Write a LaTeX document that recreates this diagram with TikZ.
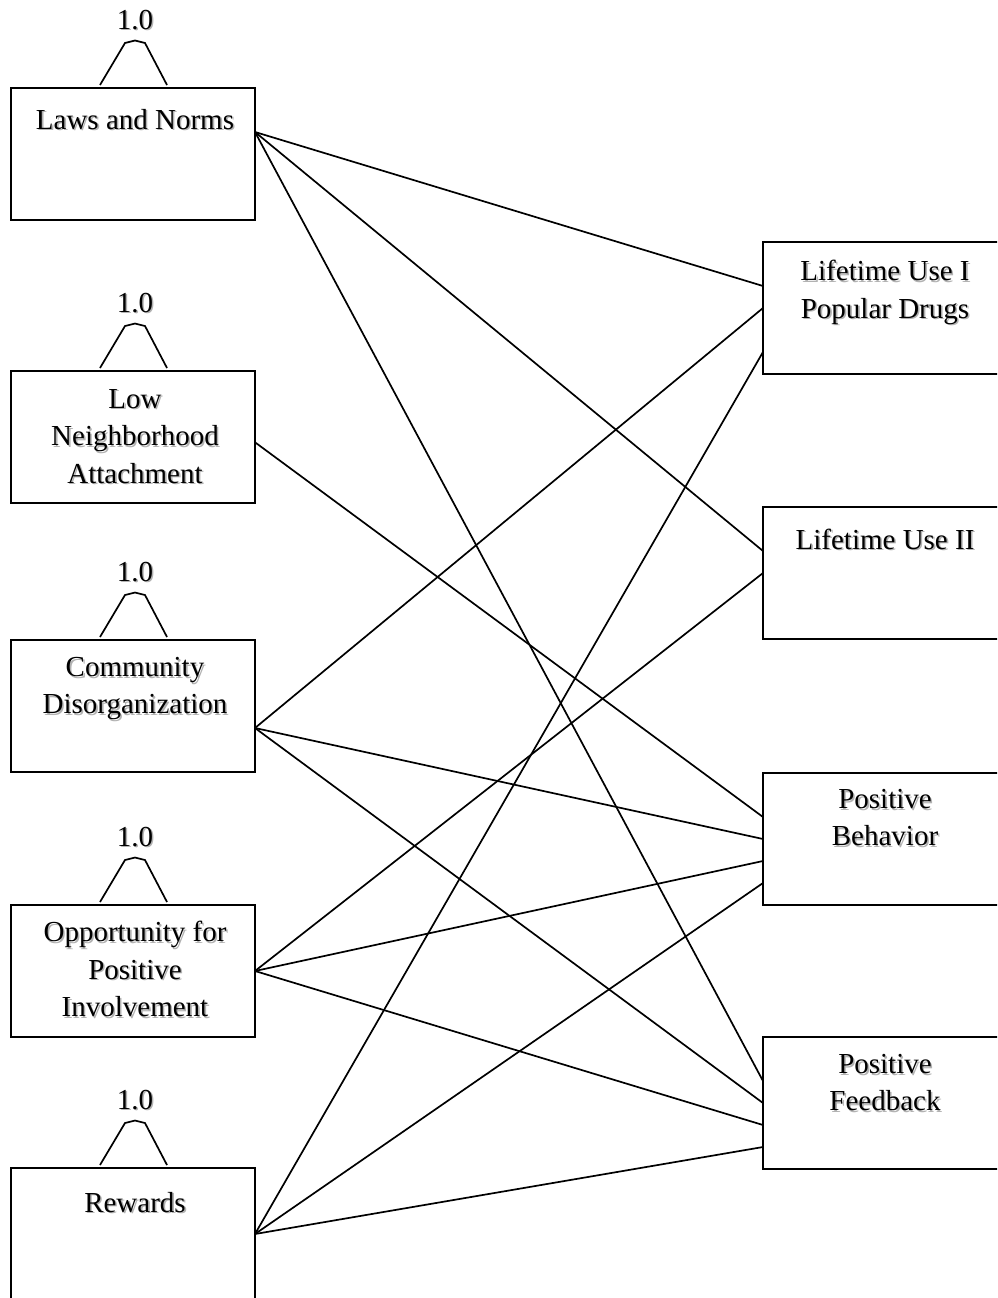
\documentclass[tikz,border=0pt]{standalone}
\usepackage{fontspec}
\setmainfont{Liberation Serif}
\usetikzlibrary{calc}
\newcommand\myconn[4]{\draw[conn] ($(#1.north east)!#2!(#1.south east)$) -- ($(#3.north west)!#4!(#3.south west)$);}
\newcommand\mylbl[3]{%
  \node[lbltxt,text=black!30,shift={(1.6,1.6)}] (#1s) at (#2) {#3};
  \node[lbltxt] (#1) at (#2) {#3};}
\newcommand\myhat[1]{%
  \draw[hatline] ($(#1.north)+(-33,-3)$) -- ($(#1.north)+(-8,-45)$) -- ($(#1.north)+(2,-47.5)$) -- ($(#1.north)+(12,-45)$) -- ($(#1.north)+(34,-3)$);
  \mylbl{#1w}{$(#1.north)+(2,-59-28)$}{1.0}}
\begin{document}
\begin{tikzpicture}[x=1pt,y=-1pt,
  box/.style={draw,line width=1.9pt,minimum width=244pt,minimum height=132pt,inner sep=0pt,outer sep=0pt},
  conn/.style={line width=1.7pt},
  hatline/.style={line width=1.7pt},
  lbltxt/.style={anchor=north,align=center,inner sep=0pt,font=\fontsize{29}{37.5}\selectfont,
    execute at begin node={\rule{0pt}{28pt}}}]
\useasboundingbox (0,0) rectangle (997,1298);
\clip (0,0) rectangle (997,1298);
% left boxes
\node[box] (laws) at (133,154) {};
\node[box] (low) at (133,437) {};
\node[box] (comm) at (133,706) {};
\node[box] (opp) at (133,971) {};
\node[box] (rew) at (133,1234) {};
% right boxes
\node[box] (r1) at (885,308) {};
\node[box] (r2) at (885,573) {};
\node[box] (r3) at (885,839) {};
\node[box] (r4) at (885,1103) {};
% texts (position = first baseline - 28)
\mylbl{lawst}{135,101}{Laws and Norms}
\mylbl{lowt}{135,389}{Low\\Neighborhood\\Attachment}
\mylbl{commt}{135,657}{Community\\Disorganization}
\mylbl{oppt}{135,921}{Opportunity for\\Positive\\Involvement}
\mylbl{rewt}{135,1184}{Rewards}
\mylbl{r1t}{885,260}{Lifetime Use I\\Popular Drugs}
\mylbl{r2t}{885,521}{Lifetime Use II}
\mylbl{r3t}{885,789}{Positive\\Behavior}
\mylbl{r4t}{885,1054}{Positive\\Feedback}
% hats
\myhat{laws}
\myhat{low}
\myhat{comm}
\myhat{opp}
\myhat{rew}
% connectors
\myconn{laws}{1/3}{r1}{1/3}
\myconn{laws}{1/3}{r2}{1/3}
\myconn{laws}{1/3}{r4}{1/3}
\myconn{low}{0.54}{r3}{1/3}
\myconn{comm}{2/3}{r1}{1/2}
\myconn{comm}{2/3}{r3}{1/2}
\myconn{comm}{2/3}{r4}{1/2}
\myconn{opp}{1/2}{r2}{1/2}
\myconn{opp}{1/2}{r3}{2/3}
\myconn{opp}{1/2}{r4}{2/3}
\myconn{rew}{1/2}{r1}{5/6}
\myconn{rew}{1/2}{r3}{5/6}
\myconn{rew}{1/2}{r4}{5/6}
\end{tikzpicture}
\end{document}
